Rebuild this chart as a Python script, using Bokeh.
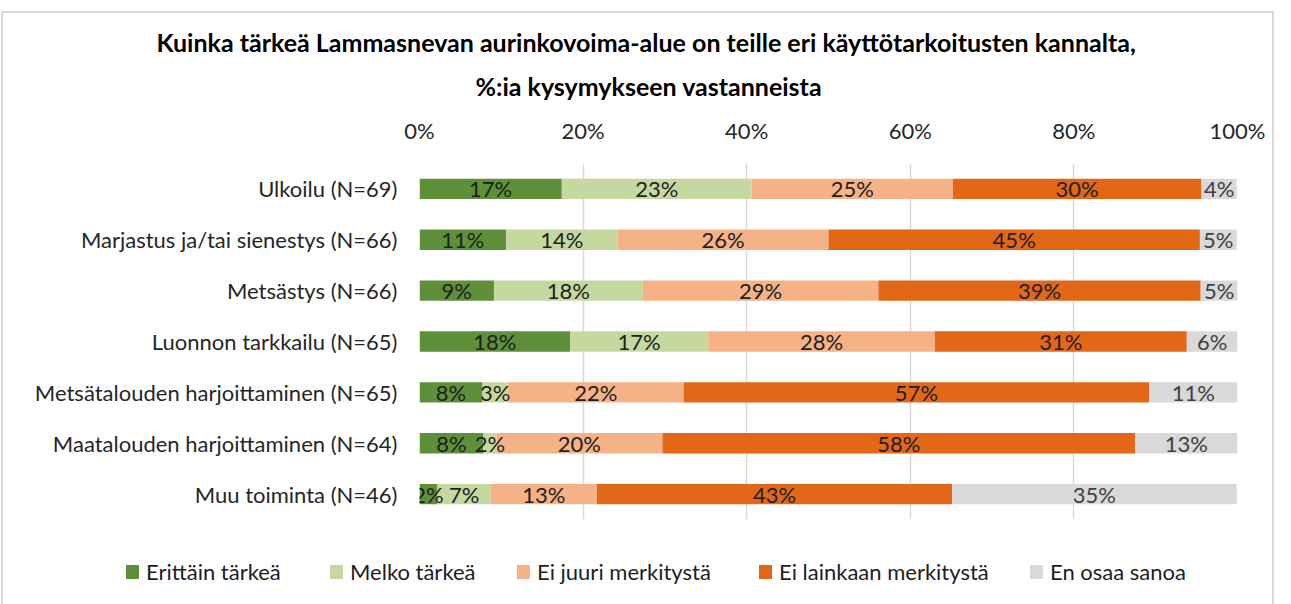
import math
from bokeh.plotting import figure
from bokeh.layouts import column
from bokeh.models import (ColumnDataSource, Range1d, FactorRange, Div,
                          FixedTicker, Title, InlineStyleSheet)
from bokeh.embed import file_html
from bokeh.resources import INLINE
from bokeh.core.properties import value

# ---------------- data ----------------
categories = [
    "Ulkoilu (N=69)",
    "Marjastus ja/tai sienestys (N=66)",
    "Metsästys (N=66)",
    "Luonnon tarkkailu (N=65)",
    "Metsätalouden harjoittaminen (N=65)",
    "Maatalouden harjoittaminen (N=64)",
    "Muu toiminta (N=46)",
]
series_names = ["Erittäin tärkeä", "Melko tärkeä", "Ei juuri merkitystä",
                "Ei lainkaan merkitystä", "En osaa sanoa"]
erittain = [17.4, 10.6, 9.1, 18.4, 7.7, 7.8, 2.2]
melko = [23.2, 13.6, 18.2, 16.9, 3.1, 1.6, 6.5]
ei_juuri = [24.6, 25.8, 28.8, 27.7, 21.5, 20.3, 13.0]
ei_lainkaan = [30.4, 45.4, 39.4, 30.8, 56.9, 57.8, 43.4]
en_osaa = [4.3, 4.5, 4.5, 6.2, 10.8, 12.5, 34.8]
x_ticks = [0, 20, 40, 60, 80, 100]
x_tick_labels = ["0%", "20%", "40%", "60%", "80%", "100%"]
title_lines = ["Kuinka tärkeä Lammasnevan aurinkovoima-alue on teille eri käyttötarkoitusten kannalta,",
               "%:ia kysymykseen vastanneista"]

colors = ["#5E903A", "#C5D8A0", "#F4B286", "#E26716", "#D9D9D9"]
label_colors = ["#1E1E1E", "#1E1E1E", "#1E1E1E", "#1E1E1E", "#404040"]
FONT = "Lato"
FS = "22px"

series = [erittain, melko, ei_juuri, ei_lainkaan, en_osaa]
keys = ["s%d" % i for i in range(len(series))]

W = 1275
H_MAIN, H_LEG = 540, 48
p = figure(width=W, height=H_MAIN, output_backend="svg", toolbar_location=None,
           y_range=FactorRange(*reversed(categories)), x_range=Range1d(0, 100),
           x_axis_location="above",
           min_border_left=419, min_border_right=38, min_border_top=163,
           min_border_bottom=21)
p.outline_line_color = None
p.background_fill_color = "white"
p.border_fill_color = "white"

data = {"cat": categories}
for k, s in zip(keys, series):
    data[k] = s
src = ColumnDataSource(data)
renderers = p.hbar_stack(keys, y="cat", height=0.4, color=colors, line_color=None,
                         source=src)

# data labels
for i, (s, k) in enumerate(zip(series, keys)):
    xs, ys, ts = [], [], []
    for j, cat in enumerate(categories):
        start = sum(series[m][j] for m in range(i))
        xs.append(start + s[j] / 2.0)
        ys.append(cat)
        ts.append("%d%%" % math.floor(s[j] + 0.5))
    lsrc = ColumnDataSource(dict(x=xs, y=ys, t=ts))
    p.text(x="x", y="y", text="t", source=lsrc, text_align="center",
           text_baseline="middle", text_font=value(FONT), text_font_size=FS,
           text_color=label_colors[i])

# axes
xa = p.xaxis[0]
xa.ticker = FixedTicker(ticks=x_ticks)
xa.major_label_overrides = {t: l for t, l in zip(x_ticks, x_tick_labels)}
xa.axis_line_color = None
xa.major_tick_line_color = None
xa.minor_tick_line_color = None
xa.major_label_text_font = FONT
xa.major_label_text_font_size = FS
xa.major_label_text_color = "#262626"
xa.major_label_standoff = 14

ya = p.yaxis[0]
ya.axis_line_color = None
ya.major_tick_line_color = None
ya.major_label_text_font = FONT
ya.major_label_text_font_size = FS
ya.major_label_text_color = "#262626"
ya.major_label_standoff = 16

p.xgrid.ticker = FixedTicker(ticks=x_ticks)
p.xgrid.grid_line_color = "#D9D9D9"
p.xgrid.grid_line_width = 1.5
p.ygrid.grid_line_color = None

# title (two lines, centred on the whole chart)
title_offsets = [-263, 56]
title_standoffs = [0, 25]
for t, off, so in reversed(list(zip(title_lines, title_offsets, title_standoffs))):
    p.add_layout(Title(text=t, align="left", offset=off, standoff=so,
                       text_font=FONT, text_font_style="bold",
                       text_font_size="25px", text_color="#000000"), "above")

# legend strip below the plot
legend_x = [126, 330, 517, 759, 1030]
parts = []
for n, c, x0 in zip(series_names, colors, legend_x):
    parts.append(
        '<span style="position:absolute;left:%dpx;top:25px;width:13px;height:14px;'
        'background:%s;"></span>'
        '<span style="position:absolute;left:%dpx;top:17px;line-height:30px;'
        'font-family:Lato;font-size:22px;color:#1E1E1E;white-space:nowrap;">%s</span>'
        % (x0, c, x0 + 20, n))
legend_div = Div(text='<div style="position:relative;width:%dpx;height:%dpx;">%s</div>'
                 % (W, H_LEG, "".join(parts)), width=W, height=H_LEG,
                 margin=(0, 0, 0, 0))

layout = column(p, legend_div, spacing=0)
layout.stylesheets = [InlineStyleSheet(css=""":host { position: relative; }
:host::after { content: ""; position: absolute; left: 1px; top: 11px; right: 1px;
  bottom: -20px; border: 2px solid #D9D9D9; pointer-events: none; }""")]

open("out.html", "w").write(file_html(layout, INLINE))
